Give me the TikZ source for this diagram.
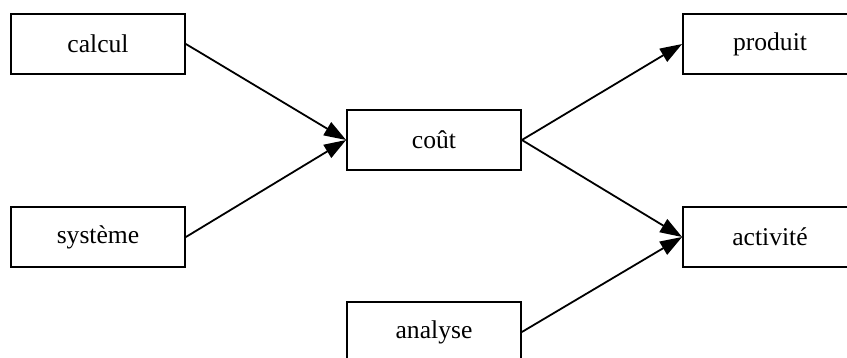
\documentclass[tikz,border=0pt]{standalone}
\usepackage{fontspec}
\setmainfont{Liberation Serif}
\usetikzlibrary{arrows.meta}
\begin{document}
\begin{tikzpicture}[x=0.5pt,y=-0.5pt,
		concept/.style={draw, line width=0.9pt, minimum width=87pt, minimum height=30pt,
			inner sep=0pt, font=\fontsize{12.8}{15}\selectfont},
		link/.style={line width=0.9pt, -{Triangle[length=11pt,width=7.5pt]}}]
			\useasboundingbox (0,0) rectangle (847,358);
			\clip (0,0) rectangle (847,358);
			\node[concept] (calcul) at (98,44) {calcul};
			\node[concept] (systeme) at (98,237) {système};
			\node[concept] (cout) at (434,140) {coût};
			\node[concept] (analyse) at (434,332) {analyse};
			\node[concept] (produit) at (770,44) {produit};
			\node[concept] (activite) at (770,237) {activité};
			\draw[link] (calcul.east)--(cout.west);
			\draw[link] (systeme.east)--(cout.west);
			\draw[link] (cout.east)--(produit.west);
			\draw[link] (cout.east)--(activite.west);
			\draw[link] (analyse.east)--(activite.west);
		\end{tikzpicture}
\end{document}
